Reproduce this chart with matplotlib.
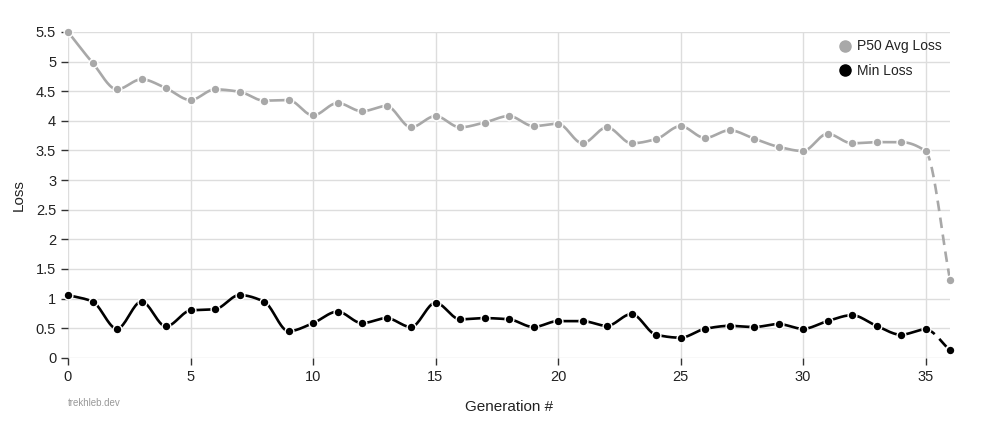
import numpy as np
import matplotlib
matplotlib.use('Agg')
import matplotlib.pyplot as plt
from matplotlib.lines import Line2D

plt.rcParams['font.family'] = ['Liberation Sans', 'DejaVu Sans']

generations = list(range(37))
p50_avg_loss = [5.50, 4.98, 4.53, 4.70, 4.55, 4.35, 4.53, 4.49, 4.34, 4.35,
                4.09, 4.30, 4.16, 4.25, 3.89, 4.08, 3.89, 3.97, 4.08, 3.91,
                3.95, 3.62, 3.89, 3.62, 3.69, 3.91, 3.71, 3.84, 3.70, 3.56,
                3.49, 3.78, 3.62, 3.64, 3.64, 3.49, 1.32]
min_loss = [1.06, 0.95, 0.49, 0.95, 0.53, 0.80, 0.82, 1.06, 0.95, 0.45,
            0.585, 0.78, 0.585, 0.67, 0.52, 0.93, 0.65, 0.67, 0.65, 0.52,
            0.62, 0.62, 0.54, 0.74, 0.39, 0.34, 0.49, 0.54, 0.52, 0.57,
            0.49, 0.62, 0.72, 0.54, 0.39, 0.48, 0.13]
x_ticks = [0, 5, 10, 15, 20, 25, 30, 35]
y_ticks = [0, 0.5, 1, 1.5, 2, 2.5, 3, 3.5, 4, 4.5, 5, 5.5]


def monotone_curve(x, y, n=20):
    """Monotone cubic (Fritsch-Carlson) path through the points, like d3 curveMonotoneX."""
    x = np.asarray(x, float); y = np.asarray(y, float)
    h = np.diff(x); d = np.diff(y) / h
    m = np.zeros_like(y)
    m[0] = d[0]; m[-1] = d[-1]
    for i in range(1, len(y) - 1):
        if d[i - 1] * d[i] <= 0:
            m[i] = 0
        else:
            w1 = 2 * h[i] + h[i - 1]; w2 = h[i] + 2 * h[i - 1]
            m[i] = (w1 + w2) / (w1 / d[i - 1] + w2 / d[i])
    xs, ys = [], []
    for i in range(len(x) - 1):
        t = np.linspace(0, 1, n, endpoint=(i == len(x) - 2))
        h00 = 2 * t**3 - 3 * t**2 + 1; h10 = t**3 - 2 * t**2 + t
        h01 = -2 * t**3 + 3 * t**2; h11 = t**3 - t**2
        xs.append(x[i] + t * h[i])
        ys.append(h00 * y[i] + h10 * h[i] * m[i] + h01 * y[i + 1] + h11 * h[i] * m[i + 1])
    return np.concatenate(xs), np.concatenate(ys)


fig = plt.figure(figsize=(10, 4.25), dpi=100)
ax = fig.add_axes([0.068, 0.158, 0.882, 0.767])

series = [(p50_avg_loss, '#a8a8a8', 'P50 Avg Loss'), (min_loss, '#000000', 'Min Loss')]
n = 20
for vals, color, label in series:
    cx, cy = monotone_curve(generations, vals, n)
    split = (len(generations) - 2) * n + 1
    ax.plot(cx[:split], cy[:split], color=color, lw=1.9, zorder=3, solid_capstyle='round')
    ax.plot(cx[split - 1:], cy[split - 1:], color=color, lw=1.9, ls=(0, (4, 2.5)), zorder=3)
    ax.scatter(generations, vals, s=40, color=color, edgecolor='white', linewidth=1.0,
               zorder=4, clip_on=False)

ax.set_xlim(0, 36)
ax.set_ylim(0, 5.5)
ax.set_xticks(x_ticks)
ax.set_yticks(y_ticks)
ax.set_yticklabels([f'{v:g}' for v in y_ticks])
ax.grid(True, color='#dddddd', lw=1)
ax.set_axisbelow(True)
for s in ax.spines.values():
    s.set_visible(False)
ax.tick_params(axis='both', length=5, width=1, color='#333333', labelsize=10.5, labelcolor='#222222')
ax.set_xlabel('Generation #', fontsize=11, color='#222222', labelpad=12)
ax.set_ylabel('Loss', fontsize=11, color='#222222', labelpad=7)

handles = [Line2D([], [], ls='none', marker='o', markersize=8, color=c, label=l) for _, c, l in series]
ax.legend(handles=handles, loc='upper right', bbox_to_anchor=(1.005, 1.015), frameon=False,
          fontsize=10, handletextpad=0.3, labelspacing=0.75, handlelength=1.2, labelcolor='#222222')

fig.text(0.068, 0.045, 'trekhleb.dev', fontsize=7, color='#999999')

fig.savefig('out.png', dpi=100)
